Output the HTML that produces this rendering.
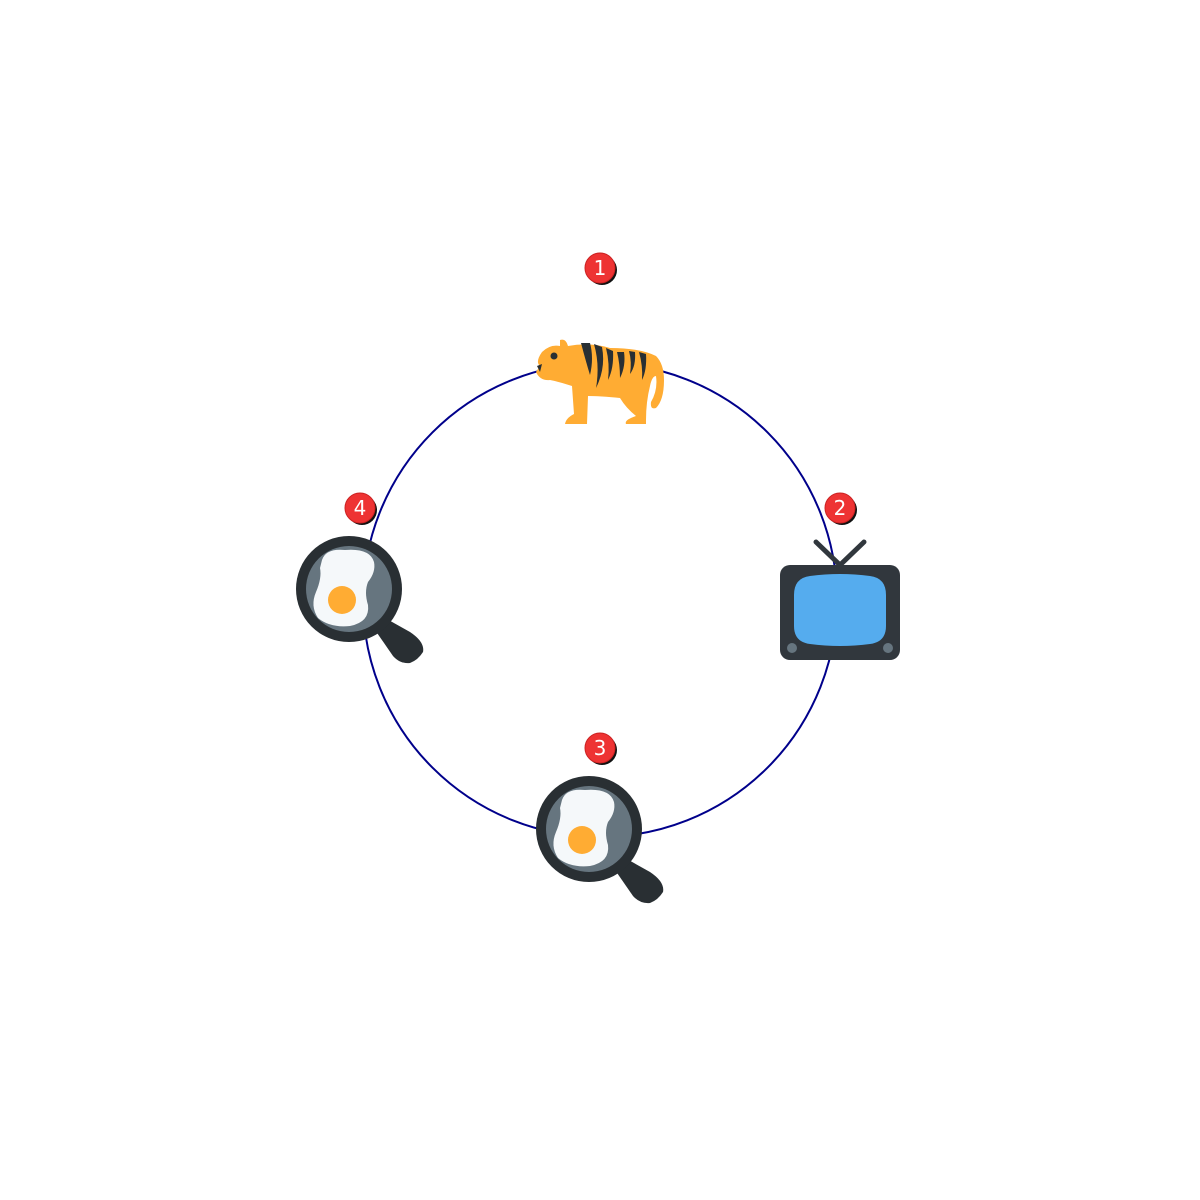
<!DOCTYPE html>
<html><head><meta charset="utf-8"><style>html,body{margin:0;padding:0;background:#fff}svg{display:block}</style></head>
<body>
<svg width="1200" height="1200" viewBox="0 0 1200 1200" xmlns="http://www.w3.org/2000/svg">
<defs>
<g id="pan">
  <path d="M385,618 L410,632 Q425,642 423,652 Q418,660 410,663 Q400,664 393,656 L375,630 Z" fill="#292f33"/>
  <circle cx="349" cy="589" r="53" fill="#292f33"/>
  <circle cx="349" cy="589" r="43" fill="#66757f"/>
  <path d="M322,560 Q326,548 345,550 Q370,548 374,562 Q376,572 368,582 Q364,592 368,605 Q370,622 350,626 Q330,628 318,618 Q310,606 316,592 Q322,578 320,568 Z" fill="#f5f8fa"/>
  <circle cx="342" cy="600" r="14" fill="#ffac33"/>
</g>
<g id="badge">
  <circle cx="2" cy="2" r="15" fill="#111"/>
  <circle cx="0" cy="0" r="15" fill="#e33" stroke="#c22" stroke-width="1"/>
</g>
</defs>
<circle cx="600" cy="600" r="237" fill="none" stroke="#00008b" stroke-width="2"/>
<!-- tiger -->
<g>
  <path d="M560,340 Q566,338 568,346 Q590,342 610,348 Q640,348 656,356 Q664,364 664,380 Q664,400 656,408 Q650,410 651,402 Q658,390 656,376 Q652,376 650,386 Q646,402 646,420 L646,424 L626,424 Q624,420 636,416 Q626,408 620,398 Q600,396 588,396 L587,424 L565,424 Q566,418 574,414 L572,386 Q560,382 550,380 Q540,381 536,372 L540,366 Q535,362 542,352 Q550,344 560,346 Z" fill="#ffac33"/>
  <circle cx="554" cy="356" r="3.5" fill="#292f33"/>
  <path d="M537,366 L542,364 L540,372 Z" fill="#292f33"/>
  <path d="M581,343 L590,343 Q594,358 590,375 Q586,362 581,343 Z" fill="#292f33"/>
  <path d="M594,344 L602,347 Q606,368 596,388 Q600,365 594,344 Z" fill="#292f33"/>
  <path d="M606,348 L613,351 Q614,368 608,380 Q610,364 606,348 Z" fill="#292f33"/>
  <path d="M617,352 L624,352 Q626,366 620,378 Q620,364 617,352 Z" fill="#292f33"/>
  <path d="M629,351 L635,352 Q636,366 630,374 Q632,362 629,351 Z" fill="#292f33"/>
  <path d="M639,352 L646,354 Q647,370 642,380 Q643,366 639,352 Z" fill="#292f33"/>
</g>
<!-- TV -->
<g>
  <path d="M816,542 L840,565 L864,542" fill="none" stroke="#31373d" stroke-width="5" stroke-linecap="round"/>
  <rect x="780" y="565" width="120" height="95" rx="10" fill="#31373d"/>
  <path d="M810,576 Q840,572 870,576 Q886,578 886,595 L886,626 Q886,642 870,644 Q840,648 810,644 Q794,642 794,626 L794,595 Q794,578 810,576 Z" fill="#55acee"/>
  <circle cx="792" cy="648" r="5" fill="#66757f"/>
  <circle cx="888" cy="648" r="5" fill="#66757f"/>
</g>
<use href="#pan"/>
<use href="#pan" transform="translate(240,240)"/>
<g font-family="'DejaVu Sans','Liberation Sans',sans-serif" font-size="20" fill="#fff" text-anchor="middle">
  <use href="#badge" x="600" y="268"/><text x="600" y="275">1</text>
  <use href="#badge" x="840" y="508"/><text x="840" y="515">2</text>
  <use href="#badge" x="600" y="748"/><text x="600" y="755">3</text>
  <use href="#badge" x="360" y="508"/><text x="360" y="515">4</text>
</g>
</svg>
</body></html>
